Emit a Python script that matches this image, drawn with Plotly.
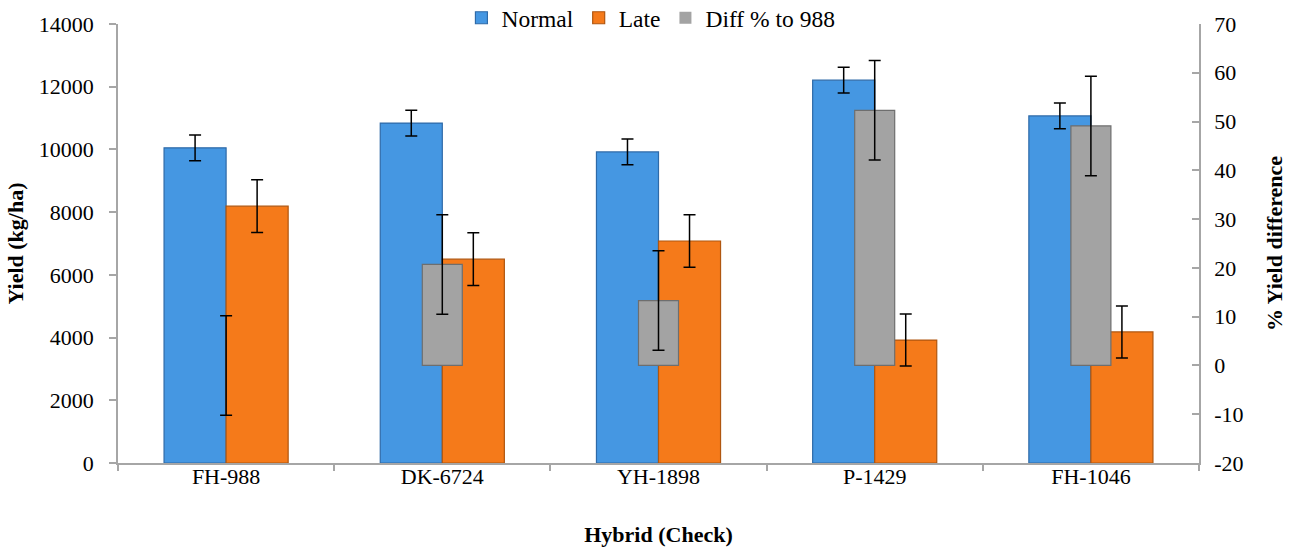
import plotly.graph_objects as go

hybrids = ["FH-988", "DK-6724", "YH-1898", "P-1429", "FH-1046"]
normal = [10050, 10840, 9920, 12210, 11070]
normal_err = [410, 410, 410, 410, 410]
late = [8190, 6500, 7080, 3920, 4180]
late_err = [840, 840, 840, 830, 830]
diff = [0, 20.7, 13.3, 52.3, 49.1]
diff_err = [10.2, 10.2, 10.2, 10.2, 10.2]
series_names = ["Normal", "Late", "Diff % to 988"]

left_ticks = [0, 2000, 4000, 6000, 8000, 10000, 12000, 14000]
left_labels = ["0", "2000", "4000", "6000", "8000", "10000", "12000", "14000"]
right_ticks = [-20, -10, 0, 10, 20, 30, 40, 50, 60, 70]
right_labels = ["-20", "-10", "0", "10", "20", "30", "40", "50", "60", "70"]

FONT = "Liberation Serif"
FS = 22

diff_line_w = [0 if v == 0 else 1.2 for v in diff]

fig = go.Figure()
fig.add_trace(go.Bar(
    name=series_names[0], x=hybrids, y=normal,
    width=0.287, offset=-0.287,
    marker=dict(color="#4597e2", line=dict(color="#2e6aa8", width=1.2)),
    error_y=dict(type="data", array=normal_err, color="black", thickness=1.5, width=6),
    xaxis="x", yaxis="y",
))
fig.add_trace(go.Bar(
    name=series_names[1], x=hybrids, y=late,
    width=0.287, offset=0.0,
    marker=dict(color="#f57a1a", line=dict(color="#b0560f", width=1.2)),
    error_y=dict(type="data", array=late_err, color="black", thickness=1.5, width=6),
    xaxis="x", yaxis="y",
))
fig.add_trace(go.Bar(
    name=series_names[2], x=hybrids, y=diff,
    width=0.185, offset=-0.0925,
    marker=dict(color="#a3a3a3", line=dict(color="#6e6e6e", width=diff_line_w)),
    error_y=dict(type="data", array=diff_err, color="black", thickness=1.5, width=6),
    xaxis="x2", yaxis="y2",
))

cat_range = [-0.5, len(hybrids) - 0.5]

fig.update_layout(
    template="none",
    width=1302, height=552,
    paper_bgcolor="white", plot_bgcolor="white",
    barmode="overlay",
    margin=dict(l=118, r=103, t=24, b=89, autoexpand=False),
    font=dict(family=FONT, size=FS, color="black"),
    showlegend=True,
    legend=dict(orientation="h", x=0.493, xanchor="center", y=1.0137, yanchor="middle",
                font=dict(family=FONT, size=23.5, color="black"),
                bgcolor="rgba(0,0,0,0)", itemwidth=30, tracegroupgap=0),
    xaxis=dict(
        type="category", categoryorder="array", categoryarray=hybrids, range=cat_range,
        showline=True, linecolor="#a6a6a6", linewidth=1.5,
        ticks="", ticklen=0, ticklabelstandoff=-7,
        tickfont=dict(family=FONT, size=FS, color="black"),
        title=dict(text="<b>Hybrid (Check)</b>", font=dict(family=FONT, size=FS, color="black"), standoff=38),
        showgrid=False, zeroline=False, automargin=False,
    ),
    xaxis2=dict(
        type="category", categoryorder="array", categoryarray=hybrids, range=cat_range,
        overlaying="x", side="bottom", anchor="y2",
        showline=False, showticklabels=False,
        ticks="outside", tickson="boundaries", ticklen=7, tickcolor="#a6a6a6", tickwidth=1.5,
        showgrid=False, zeroline=False, automargin=False,
    ),
    yaxis=dict(
        range=[0, 14000], tickmode="array", tickvals=left_ticks, ticktext=left_labels,
        showline=True, linecolor="#a6a6a6", linewidth=1.5,
        ticks="outside", ticklen=7, tickcolor="#a6a6a6", tickwidth=1.5,
        ticklabelstandoff=11,
        tickfont=dict(family=FONT, size=FS, color="black"),
        title=dict(text="<b>Yield (kg/ha)</b>", font=dict(family=FONT, size=FS, color="black"), standoff=9),
        showgrid=False, zeroline=False, automargin=False,
    ),
    yaxis2=dict(
        range=[-20, 70], tickmode="array", tickvals=right_ticks, ticktext=right_labels,
        overlaying="y", side="right", anchor="x2",
        showline=True, linecolor="#a6a6a6", linewidth=1.5,
        ticks="inside", ticklen=7, tickcolor="#a6a6a6", tickwidth=1.5,
        ticklabelstandoff=9,
        tickfont=dict(family=FONT, size=FS, color="black"),
        title=dict(text="<b>% Yield difference</b>", font=dict(family=FONT, size=FS, color="black"), standoff=24),
        showgrid=False, zeroline=False, automargin=False,
    ),
)

fig.write_html("out.html", config={"displayModeBar": False},
               post_script="document.body.style.margin='0';")
